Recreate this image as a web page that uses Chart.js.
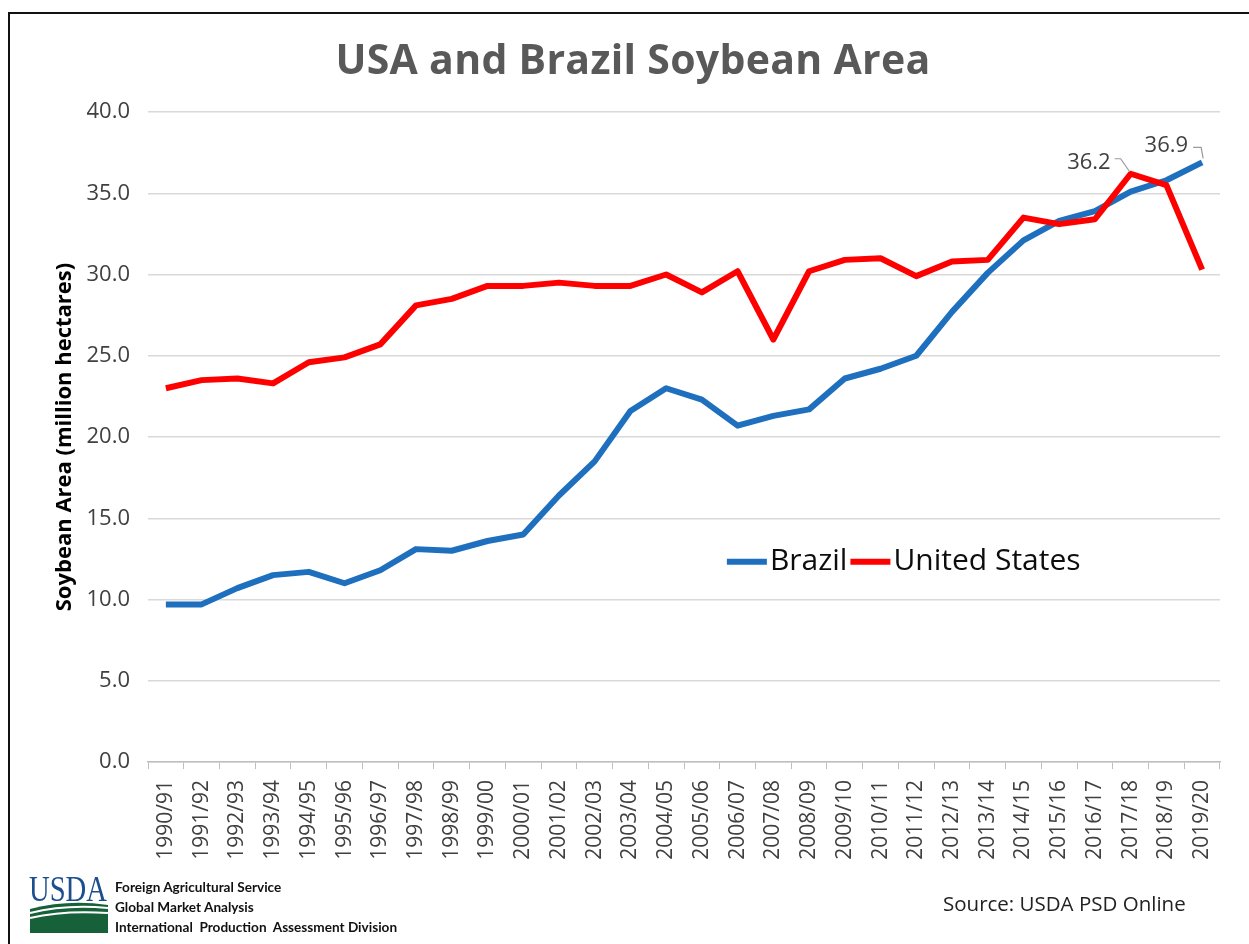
<!DOCTYPE html>
<html>
<head>
<meta charset="utf-8">
<script src="https://cdn.jsdelivr.net/npm/chart.js@4.4.1/dist/chart.umd.min.js"></script>
<style>
  html, body { margin: 0; padding: 0; background: #fff; }
  #page { position: relative; width: 1249px; height: 944px; overflow: hidden; font-family: "Open Sans", sans-serif; }
  #frame { position: absolute; left: 8px; top: 12px; right: -10px; bottom: -10px; border-top: 2px solid #111; border-left: 2px solid #111; }
  #chart { position: absolute; left: 0; top: 0; }
  #title { position: absolute; left: 0; top: 30px; width: 1266px; text-align: center; font-weight: bold; font-size: 41px; line-height: 56px; color: #595959; letter-spacing: 0.3px; }
  #logo { position: absolute; left: 28px; top: 873px; }
  #agency { position: absolute; left: 115px; top: 877px; font-family: Lato, sans-serif; font-weight: bold; font-size: 13.6px; line-height: 20px; color: #111; }
  #source { position: absolute; left: 943px; top: 889px; font-size: 20.5px; color: #222; }
</style>
</head>
<body>
<div id="page">
  <canvas id="chart" width="1249" height="944"></canvas>
  <div id="frame"></div>
  <div id="title">USA and Brazil Soybean Area</div>
  <svg id="logo" width="82" height="62" viewBox="0 0 82 62">
    <text x="1" y="28" font-family="Liberation Serif, serif" font-size="35" fill="#1d4f8f" textLength="78" lengthAdjust="spacingAndGlyphs">USDA</text>
    <path d="M2 36 Q40 26 80 32 L80 60 L2 60 Z" fill="#17613a"/>
    <path d="M2 40 Q38 31 80 35" stroke="#fff" stroke-width="2" fill="none"/>
    <path d="M2 45 Q36 37 80 40" stroke="#fff" stroke-width="2" fill="none"/>
  </svg>
  <div id="agency">Foreign Agricultural Service<br>Global Market Analysis<br>International&nbsp; Production&nbsp; Assessment Division</div>
  <div id="source">Source: USDA PSD Online</div>
</div>
<script>
const seasons = ['1990/91', '1991/92', '1992/93', '1993/94', '1994/95', '1995/96', '1996/97', '1997/98', '1998/99', '1999/00',
  '2000/01', '2001/02', '2002/03', '2003/04', '2004/05', '2005/06', '2006/07', '2007/08', '2008/09', '2009/10',
  '2010/11', '2011/12', '2012/13', '2013/14', '2014/15', '2015/16', '2016/17', '2017/18', '2018/19', '2019/20'];

// million hectares
const brazilArea = [9.7, 9.7, 10.7, 11.5, 11.7, 11.0, 11.8, 13.1, 13.0, 13.6,
  14.0, 16.4, 18.5, 21.6, 23.0, 22.3, 20.7, 21.3, 21.7, 23.6,
  24.2, 25.0, 27.7, 30.1, 32.1, 33.3, 33.9, 35.1, 35.8, 36.9];
const usArea = [23.0, 23.5, 23.6, 23.3, 24.6, 24.9, 25.7, 28.1, 28.5, 29.3,
  29.3, 29.5, 29.3, 29.3, 30.0, 28.9, 30.2, 26.0, 30.2, 30.9,
  31.0, 29.9, 30.8, 30.9, 33.5, 33.1, 33.4, 36.2, 35.5, 30.3];

const brazilColor = '#1f6fbf';
const usColor = '#ff0000';

// value labels: [dataset index, point index]
const labelled = [[1, 27], [0, 29]];

const overlay = {
  id: 'overlay',
  afterDatasetsDraw(chart) {
    const ctx = chart.ctx;
    const area = chart.chartArea;
    ctx.save();

    // data labels with leader lines
    ctx.font = '22px "Open Sans"';
    ctx.fillStyle = '#404040';
    ctx.strokeStyle = '#9a9a9a';
    ctx.lineWidth = 1.2;
    ctx.textBaseline = 'middle';
    ctx.textAlign = 'right';
    labelled.forEach(([ds, i]) => {
      const pt = chart.getDatasetMeta(ds).data[i];
      const txt = chart.data.datasets[ds].data[i].toFixed(1);
      if (ds === 1) {
        ctx.fillText(txt, pt.x - 20, pt.y - 11);
        ctx.beginPath();
        ctx.moveTo(pt.x - 16, pt.y - 15);
        ctx.lineTo(pt.x - 10, pt.y - 15);
        ctx.lineTo(pt.x - 1, pt.y - 2);
        ctx.stroke();
      } else {
        ctx.fillText(txt, pt.x - 14, pt.y - 17);
        ctx.beginPath();
        ctx.moveTo(pt.x - 9, pt.y - 15);
        ctx.lineTo(pt.x - 1, pt.y - 15);
        ctx.lineTo(pt.x + 1, pt.y - 4);
        ctx.stroke();
      }
    });

    // legend inside the plot
    let x = area.left + area.width * 0.54;
    const y = area.top + area.height * 0.692;
    ctx.font = '30px "Open Sans"';
    ctx.textAlign = 'left';
    ctx.fillStyle = '#0d0d0d';
    ctx.lineWidth = 6;
    ctx.lineCap = 'butt';
    chart.data.datasets.forEach(d => {
      ctx.strokeStyle = d.borderColor;
      ctx.beginPath();
      ctx.moveTo(x, y);
      ctx.lineTo(x + 40, y);
      ctx.stroke();
      ctx.fillText(d.label, x + 43, y);
      x += 43 + ctx.measureText(d.label).width + 3;
    });
    ctx.restore();
  }
};

new Chart(document.getElementById('chart'), {
  type: 'line',
  data: {
    labels: seasons,
    datasets: [{
      label: 'Brazil',
      data: brazilArea,
      borderColor: brazilColor,
      backgroundColor: brazilColor,
      borderWidth: 6,
      pointRadius: 0,
      borderJoinStyle: 'round',
      order: 1
    }, {
      label: 'United States',
      data: usArea,
      borderColor: usColor,
      backgroundColor: usColor,
      borderWidth: 6,
      pointRadius: 0,
      borderJoinStyle: 'round',
      order: 0
    }]
  },
  options: {
    responsive: false,
    animation: false,
    devicePixelRatio: 1,
    layout: { padding: { left: 46, top: 112, right: 29, bottom: 72 } },
    plugins: {
      legend: { display: false },
      tooltip: { enabled: false }
    },
    scales: {
      x: {
        offset: true,
        afterFit: s => { s.height = 110; },
        grid: { drawOnChartArea: false, tickLength: 7, color: '#bfbfbf', offset: true },
        border: { color: '#bfbfbf', width: 1.5 },
        ticks: {
          autoSkip: false, minRotation: 90, maxRotation: 90, padding: 11,
          color: '#404040', font: { family: 'Open Sans', size: 21 }
        }
      },
      y: {
        min: 0,
        max: 40,
        afterFit: s => { s.width = 102; },
        border: { display: false },
        grid: { drawTicks: false, color: '#d9d9d9', lineWidth: 1.5 },
        ticks: {
          stepSize: 5, padding: 18, color: '#404040',
          font: { family: 'Open Sans', size: 22 },
          callback: v => v.toFixed(1)
        },
        title: {
          display: true,
          text: 'Soybean Area (million hectares)',
          color: '#000',
          font: { family: 'Open Sans', size: 22, weight: 'bold' },
          padding: { top: 6, bottom: 0 }
        }
      }
    }
  },
  plugins: [overlay]
});
</script>
</body>
</html>
